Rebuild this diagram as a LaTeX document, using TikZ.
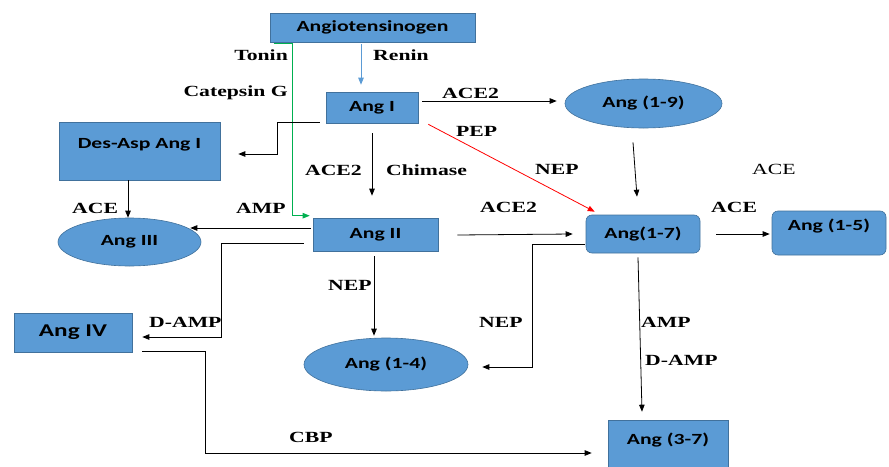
\documentclass[tikz,border=0pt]{standalone}
\usepackage{fontspec}
\usetikzlibrary{arrows.meta,shapes.geometric}
\newfontfamily\boxfont[FakeStretch=1.4]{Carlito}
\newfontfamily\labfont[FakeStretch=1.4]{Liberation Serif}
\definecolor{boxblue}{HTML}{5B9BD5}
\definecolor{boxline}{HTML}{41719C}
\definecolor{toningreen}{HTML}{00B050}
\tikzset{
    box/.style={draw=boxline,fill=boxblue,line width=0.6pt,inner sep=0pt,
        font=\boxfont\bfseries\fontsize{15.5}{18}\selectfont},
    oval/.style={box,ellipse},
    rbox/.style={box,rounded corners=6pt},
    lab/.style={inner sep=0pt,anchor=west,font=\labfont\bfseries\fontsize{15.5}{18}\selectfont},
    arr/.style={-{Triangle[length=7pt,width=5.5pt]},line width=0.8pt}
}

\begin{document}
\begin{tikzpicture}[x=1pt,y=-1pt]
    \useasboundingbox (0,0) rectangle (889,466);

    \node[box,minimum width=205pt,minimum height=29pt] (agt) at (372.5,27.5) {Angiotensinogen};
    \node[box,minimum width=92pt,minimum height=31pt] (angI) at (372,107.5) {Ang I};
    \node[box,minimum width=161pt,minimum height=58pt,text depth=16pt] (desasp) at (139.5,151) {Des-Asp Ang I};
    \node[oval,minimum width=143pt,minimum height=48pt] (angIII) at (129.5,242) {Ang III};
    \node[box,minimum width=125pt,minimum height=33pt] (angII) at (375.5,234.5) {Ang II};
    \node[oval,minimum width=157pt,minimum height=49pt] (ang19) at (643.5,103.5) {Ang (1-9)};
    \node[rbox,minimum width=114pt,minimum height=38pt] (ang17) at (643,234) {Ang(1-7)};
    \node[rbox,minimum width=114pt,minimum height=44pt,text depth=16pt] (ang15) at (829,233) {Ang (1-5)};
    \node[box,minimum width=118pt,minimum height=39pt,font=\boxfont\bfseries\fontsize{18}{21}\selectfont] (angIV) at (73,332.5) {Ang IV};
    \node[oval,minimum width=164pt,minimum height=53pt] (ang14) at (386,364.5) {Ang (1-4)};
    \node[box,minimum width=120pt,minimum height=50pt,text depth=12pt] (ang37) at (668,445) {Ang (3-7)};

    \draw[arr,boxblue,shorten <=2pt,shorten >=7pt] ([xshift=-11.5pt]agt.south) -- ([xshift=-11pt]angI.north);
    \draw[arr,toningreen] ([xshift=4pt,yshift=-1pt]agt.south west) -- ++(19,0) |- ([xshift=-3pt,yshift=2pt]angII.north west);
    \draw[arr] ([xshift=-6pt,yshift=1pt]angI.south west) -- ++(-42,0) |- ([xshift=18pt,yshift=-3pt]desasp.east);
    \draw[arr,shorten <=10pt,shorten >=22pt] (angI.south) -- (angI.south |- angII.north);
    \draw[arr] ([xshift=4pt,yshift=6.5pt]angI.east) -- ([xshift=-8pt,yshift=2.5pt]ang19.west);
    \draw[arr,red] ([xshift=10pt,yshift=-1pt]angI.south east) -- ([xshift=9pt,yshift=3pt]ang17.north west);
    \draw[arr] ([xshift=-10.5pt,yshift=-14pt]ang19.south) -- ([xshift=-6pt,yshift=18pt]ang17.north);
    \draw[arr] ([xshift=19pt,yshift=-0.5pt]angII.east) -- ([xshift=-13pt]ang17.west);
    \draw[arr] ([xshift=16pt]ang17.east) -- ([xshift=-2pt,yshift=-1pt]ang15.west);
    \draw[arr] ([xshift=-2pt,yshift=6.5pt]angII.west) -- ([xshift=-11pt,yshift=14pt]angIII.east);
    \draw[arr] ([xshift=-11.5pt]desasp.south) -- ([xshift=-1.5pt]angIII.north);
    \draw[arr] ([xshift=-9pt,yshift=-8.5pt]angII.west) -- ++(-82,0) |- ([xshift=10pt,yshift=-4.5pt]angIV.east);
    \draw[arr] ([xshift=-1.5pt,yshift=-5pt]angII.south) -- ([xshift=-1.5pt,yshift=2pt]angII.south |- ang14.north);
    \draw[arr] ([xshift=-1pt,yshift=-10pt]ang17.west) -- ++(-52,0) |- ([xshift=14pt,yshift=-2.5pt]ang14.east);
    \draw[arr] ([xshift=-5pt,yshift=-4pt]ang17.south) -- ([xshift=-26pt,yshift=8pt]ang37.north);
    \draw[arr] ([xshift=10pt,yshift=1pt]angIV.south east) -- ++(63,0) |- ([xshift=-16pt,yshift=-8pt]ang37.west);

    \node[lab,anchor=east] (lTonin) at (288,55) {Tonin};
    \node[lab] (lRenin) at (373,55) {Renin};
    \node[lab,anchor=east] (lCatepsin) at (288,93) {Catepsin G};
    \node[lab] (lAceTwoA) at (442,93) {ACE2};
    \node[lab] (lPep) at (456,131) {PEP};
    \node[lab] (lNepA) at (535,169) {NEP};
    \node[lab,anchor=east] (lAceTwoB) at (362,170) {ACE2};
    \node[lab] (lChimase) at (386,170) {Chimase};
    \node[lab] (lAceTwoC) at (480,207) {ACE2};
    \node[lab,font=\labfont\fontsize{15.5}{18}\selectfont] (lAceA) at (752,169) {ACE};
    \node[lab] (lAceB) at (711,207) {ACE};
    \node[lab] (lAmpA) at (236,208) {AMP};
    \node[lab] (lAceC) at (72,208) {ACE};
    \node[lab] (lDampA) at (149,322) {D-AMP};
    \node[lab] (lNepB) at (328,285) {NEP};
    \node[lab] (lNepC) at (479,322) {NEP};
    \node[lab] (lAmpB) at (641,322) {AMP};
    \node[lab] (lDampB) at (645,360) {D-AMP};
    \node[lab] (lCbp) at (289,437) {CBP};
\end{tikzpicture}
\end{document}
